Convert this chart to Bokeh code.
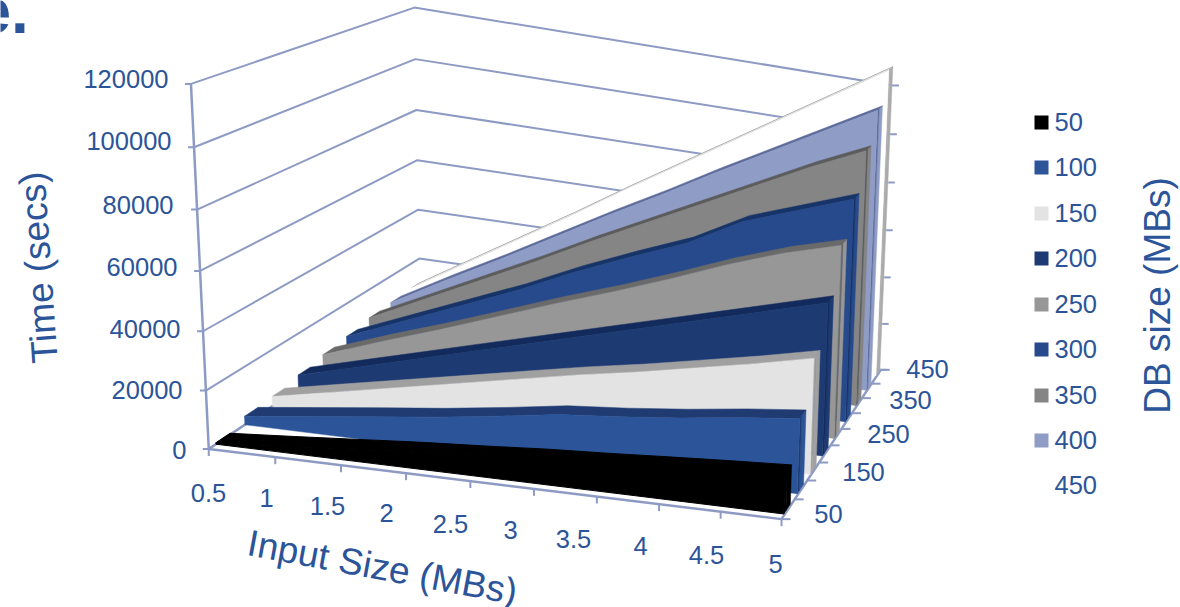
import numpy as np
from bokeh.embed import file_html
from bokeh.plotting import figure
from bokeh.resources import INLINE
from bokeh.core.properties import value

# Chart data
input_sizes = [0.5, 1, 1.5, 2, 2.5, 3, 3.5, 4, 4.5, 5]
db_sizes = [50, 100, 150, 200, 250, 300, 350, 400, 450]
time_50 = [500, 2200, 4000, 5800, 7300, 9000, 10300, 11800, 13200, 14500]
time_100 = [3000, 5800, 8600, 11300, 14500, 18000, 20000, 22500, 25500, 28000]
time_150 = [3500, 8000, 12500, 17000, 21500, 26000, 30000, 34500, 39000, 44000]
time_200 = [5000, 11000, 17000, 23000, 29000, 35000, 41000, 47000, 53000, 59000]
time_250 = [6500, 14500, 22000, 30000, 38000, 45500, 53500, 62000, 69500, 75500]
time_300 = [7500, 16500, 25500, 34500, 44500, 53500, 62000, 73500, 81000, 88500]
time_350 = [9000, 19500, 30000, 40500, 51500, 62000, 72500, 83000, 93500, 103000]
time_400 = [9500, 21500, 33000, 45000, 57000, 68500, 80500, 92000, 103500, 115000]
time_450 = [10000, 23000, 36000, 49000, 62500, 75500, 88500, 101500, 114500, 127500]
series_times = [time_50, time_100, time_150, time_200, time_250, time_300, time_350, time_400, time_450]

time_ticks = [0, 20000, 40000, 60000, 80000, 100000, 120000]
time_max = 120000

front_colors = ["#000000", "#2B5499", "#E3E3E3", "#1D3A73", "#979797", "#264A8C", "#858585", "#8E9CC6", "#FFFFFF"]
top_colors = ["#000000", "#1F3B72", "#A0A0A0", "#132B5C", "#6A6A6A", "#173468", "#5C5C5C", "#5F6D9C", "#FFFFFF"]
side_colors = ["#000000", "#2B5499", "#A0A0A0", "#1D3A73", "#979797", "#264A8C", "#858585", "#8E9CC6", "#ABABAB"]
ink = "#2B5499"
frame = "#8D9BC4"

# Camera calibration: unit-cube corners (x, value, depth) against screen positions
cube = [(0, 0, 0), (1, 0, 0), (0, 1, 0), (0, 0, 1), (1, 0, 1), (0, 1, 1), (1, 1, 1)]
screen = [(211, 449), (777, 524), (192, 77), (418, 310), (883, 361), (412, 8), (893, 89)]
rows, rhs = [], []
for (a, b, c), (u, v) in zip(cube, screen):
    rows.append([a, b, c, 1, 0, 0, 0, 0, -u * a, -u * b, -u * c])
    rows.append([0, 0, 0, 0, a, b, c, 1, -v * a, -v * b, -v * c])
    rhs += [u, v]
cam = np.append(np.linalg.lstsq(np.array(rows, float), np.array(rhs, float), rcond=None)[0], 1.0).reshape(3, 4)


def project(a, b, c):
    a, b, c = np.broadcast_arrays(np.asarray(a, float), np.asarray(b, float), np.asarray(c, float))
    h = cam @ np.vstack([a.ravel(), b.ravel(), c.ravel(), np.ones(a.size)])
    return (h[0] / h[2]).tolist(), (h[1] / h[2]).tolist()


def x_norm(x):
    return (np.asarray(x, float) - input_sizes[0]) / (input_sizes[-1] - input_sizes[0])


p = figure(width=1180, height=607, x_range=(0, 1180), y_range=(607, 0), toolbar_location=None,
           output_backend="svg", min_border=0, x_axis_type=None, y_axis_type=None, outline_line_color=None)
p.grid.visible = False
p.background_fill_color = "white"

# Walls: each gridline runs along the left wall, then the back wall
grid_x, grid_y = [], []
for t in time_ticks:
    b = t / time_max
    gx, gy = project([0, 0, 1], b, [0, 1, 1])
    grid_x.append(gx)
    grid_y.append(gy)
p.multi_line(grid_x, grid_y, line_color=frame, line_width=2)

# Frame edges and tick marks
edges = [([0, 0], [0, 1], [0, 0]), ([0, 1], [0, 0], [0, 0]), ([1, 1], [0, 0], [0, 1]), ([0, 0], [0, 0], [0, 1])]
ex, ey = zip(*[project(*e) for e in edges])
p.multi_line(list(ex), list(ey), line_color=frame, line_width=2.5)

tx, ty = [], []
for t in time_ticks:
    u, v = project(0, t / time_max, 0)
    tx.append([u[0] - 6, u[0]])
    ty.append([v[0], v[0]])
    u, v = project(1, t / time_max, 1)
    tx.append([u[0], u[0] + 6])
    ty.append([v[0], v[0]])
for x in input_sizes:
    u, v = project(x_norm(x), 0, 0)
    tx.append([u[0], u[0]])
    ty.append([v[0], v[0] + 7])
for k in range(len(db_sizes) + 1):
    u, v = project(1, 0, k / len(db_sizes))
    tx.append([u[0], u[0] + 9])
    ty.append([v[0], v[0]])
p.multi_line(tx, ty, line_color=frame, line_width=2)

# Slabs, drawn from the back row to the front row
x_lo, x_hi = 0.0, 0.998
xs = x_lo + (x_hi - x_lo) * x_norm(input_sizes)
n = len(db_sizes)
for i in range(n - 1, -1, -1):
    h = np.array(series_times[i]) / time_max
    z0 = (i * 1.04 + 0.25) / n
    z1 = min(z0 + 0.5 / n, 1.0)
    zb = z0 + 0.16 / n
    seam = 1 if i == 0 else 0.5
    # right end: a dark bevel next to the front face, then the end wall
    sx, sy = project([xs[-1]] * 4, [0, h[-1], h[-1], 0], [zb, zb, z1, z1])
    p.patch(sx, sy, fill_color=side_colors[i], line_color=side_colors[i], line_width=0.5)
    sx, sy = project([xs[-1]] * 4, [0, h[-1], h[-1], 0], [z0, z0, zb, zb])
    bevel = side_colors[i] if i == n - 1 else top_colors[i]
    p.patch(sx, sy, fill_color=bevel, line_color=bevel, line_width=0.5)
    # top surface; the rearmost row only shows a thin outline
    ax, ay = project(np.r_[xs, xs[::-1]], np.r_[h, h[::-1]], np.r_[np.full(10, z0), np.full(10, z1)])
    top_edge = "#ABABAB" if i == n - 1 else top_colors[i]
    p.patch(ax, ay, fill_color=top_colors[i], line_color=top_edge, line_width=1 if i == n - 1 else seam)
    # front face
    fx, fy = project(np.r_[xs, xs[-1], xs[0]], np.r_[h, 0, 0], z0)
    p.patch(fx, fy, fill_color=front_colors[i], line_color=front_colors[i], line_width=seam)

font = value("Liberation Sans")


def label(x, y, text, size, align="center", angle=0, style="normal", color=ink):
    p.text([x], [y], text=[text], text_font=font, text_font_size=size, text_color=color, text_align=align,
           text_baseline="middle", angle=angle, angle_units="deg", text_font_style=style)


# Tick labels
time_label_x = [186, 182, 180, 177, 173, 171, 168]
time_label_y = [449, 389, 328, 266, 204, 140, 78]
for t, x, y in zip(time_ticks, time_label_x, time_label_y):
    label(x, y, str(t), "25.5px", align="right")

input_labels = ["0.5", "1", "1.5", "2", "2.5", "3", "3.5", "4", "4.5", "5"]
input_label_x = [208, 266, 327, 386, 450, 510, 573, 640, 706, 775]
input_label_y = [492, 497, 505, 512, 523, 529, 538, 545, 554, 563]
for t, x, y in zip(input_labels, input_label_x, input_label_y):
    label(x, y, t, "25.5px")

depth_labels = ["50", "150", "250", "350", "450"]
depth_label_x = [828, 863, 888, 910, 927]
depth_label_y = [513, 471, 433, 399, 368]
for t, x, y in zip(depth_labels, depth_label_x, depth_label_y):
    label(x, y, t, "25.5px")

# Axis titles
label(38, 267, "Time (secs)", "37px", angle=94)
label(382, 567, "Input Size (MBs)", "37px", angle=-10.5)
label(1157, 295, "DB size (MBs)", "37px", angle=90)
label(-25, 10, "e.", "64px", align="left", style="bold", color=ink)

# Legend
legend_y = [122, 167, 213, 258, 304, 349, 395, 440, 485]
label_y = [121, 166, 212, 257, 303, 348, 394, 439, 484]
p.rect([1041] * 9, legend_y, width=14, height=14, fill_color=front_colors, line_color=None)
for d, y in zip(db_sizes, label_y):
    label(1054, y, str(d), "25.5px", align="left")

open("out.html", "w").write(file_html(p, INLINE))
